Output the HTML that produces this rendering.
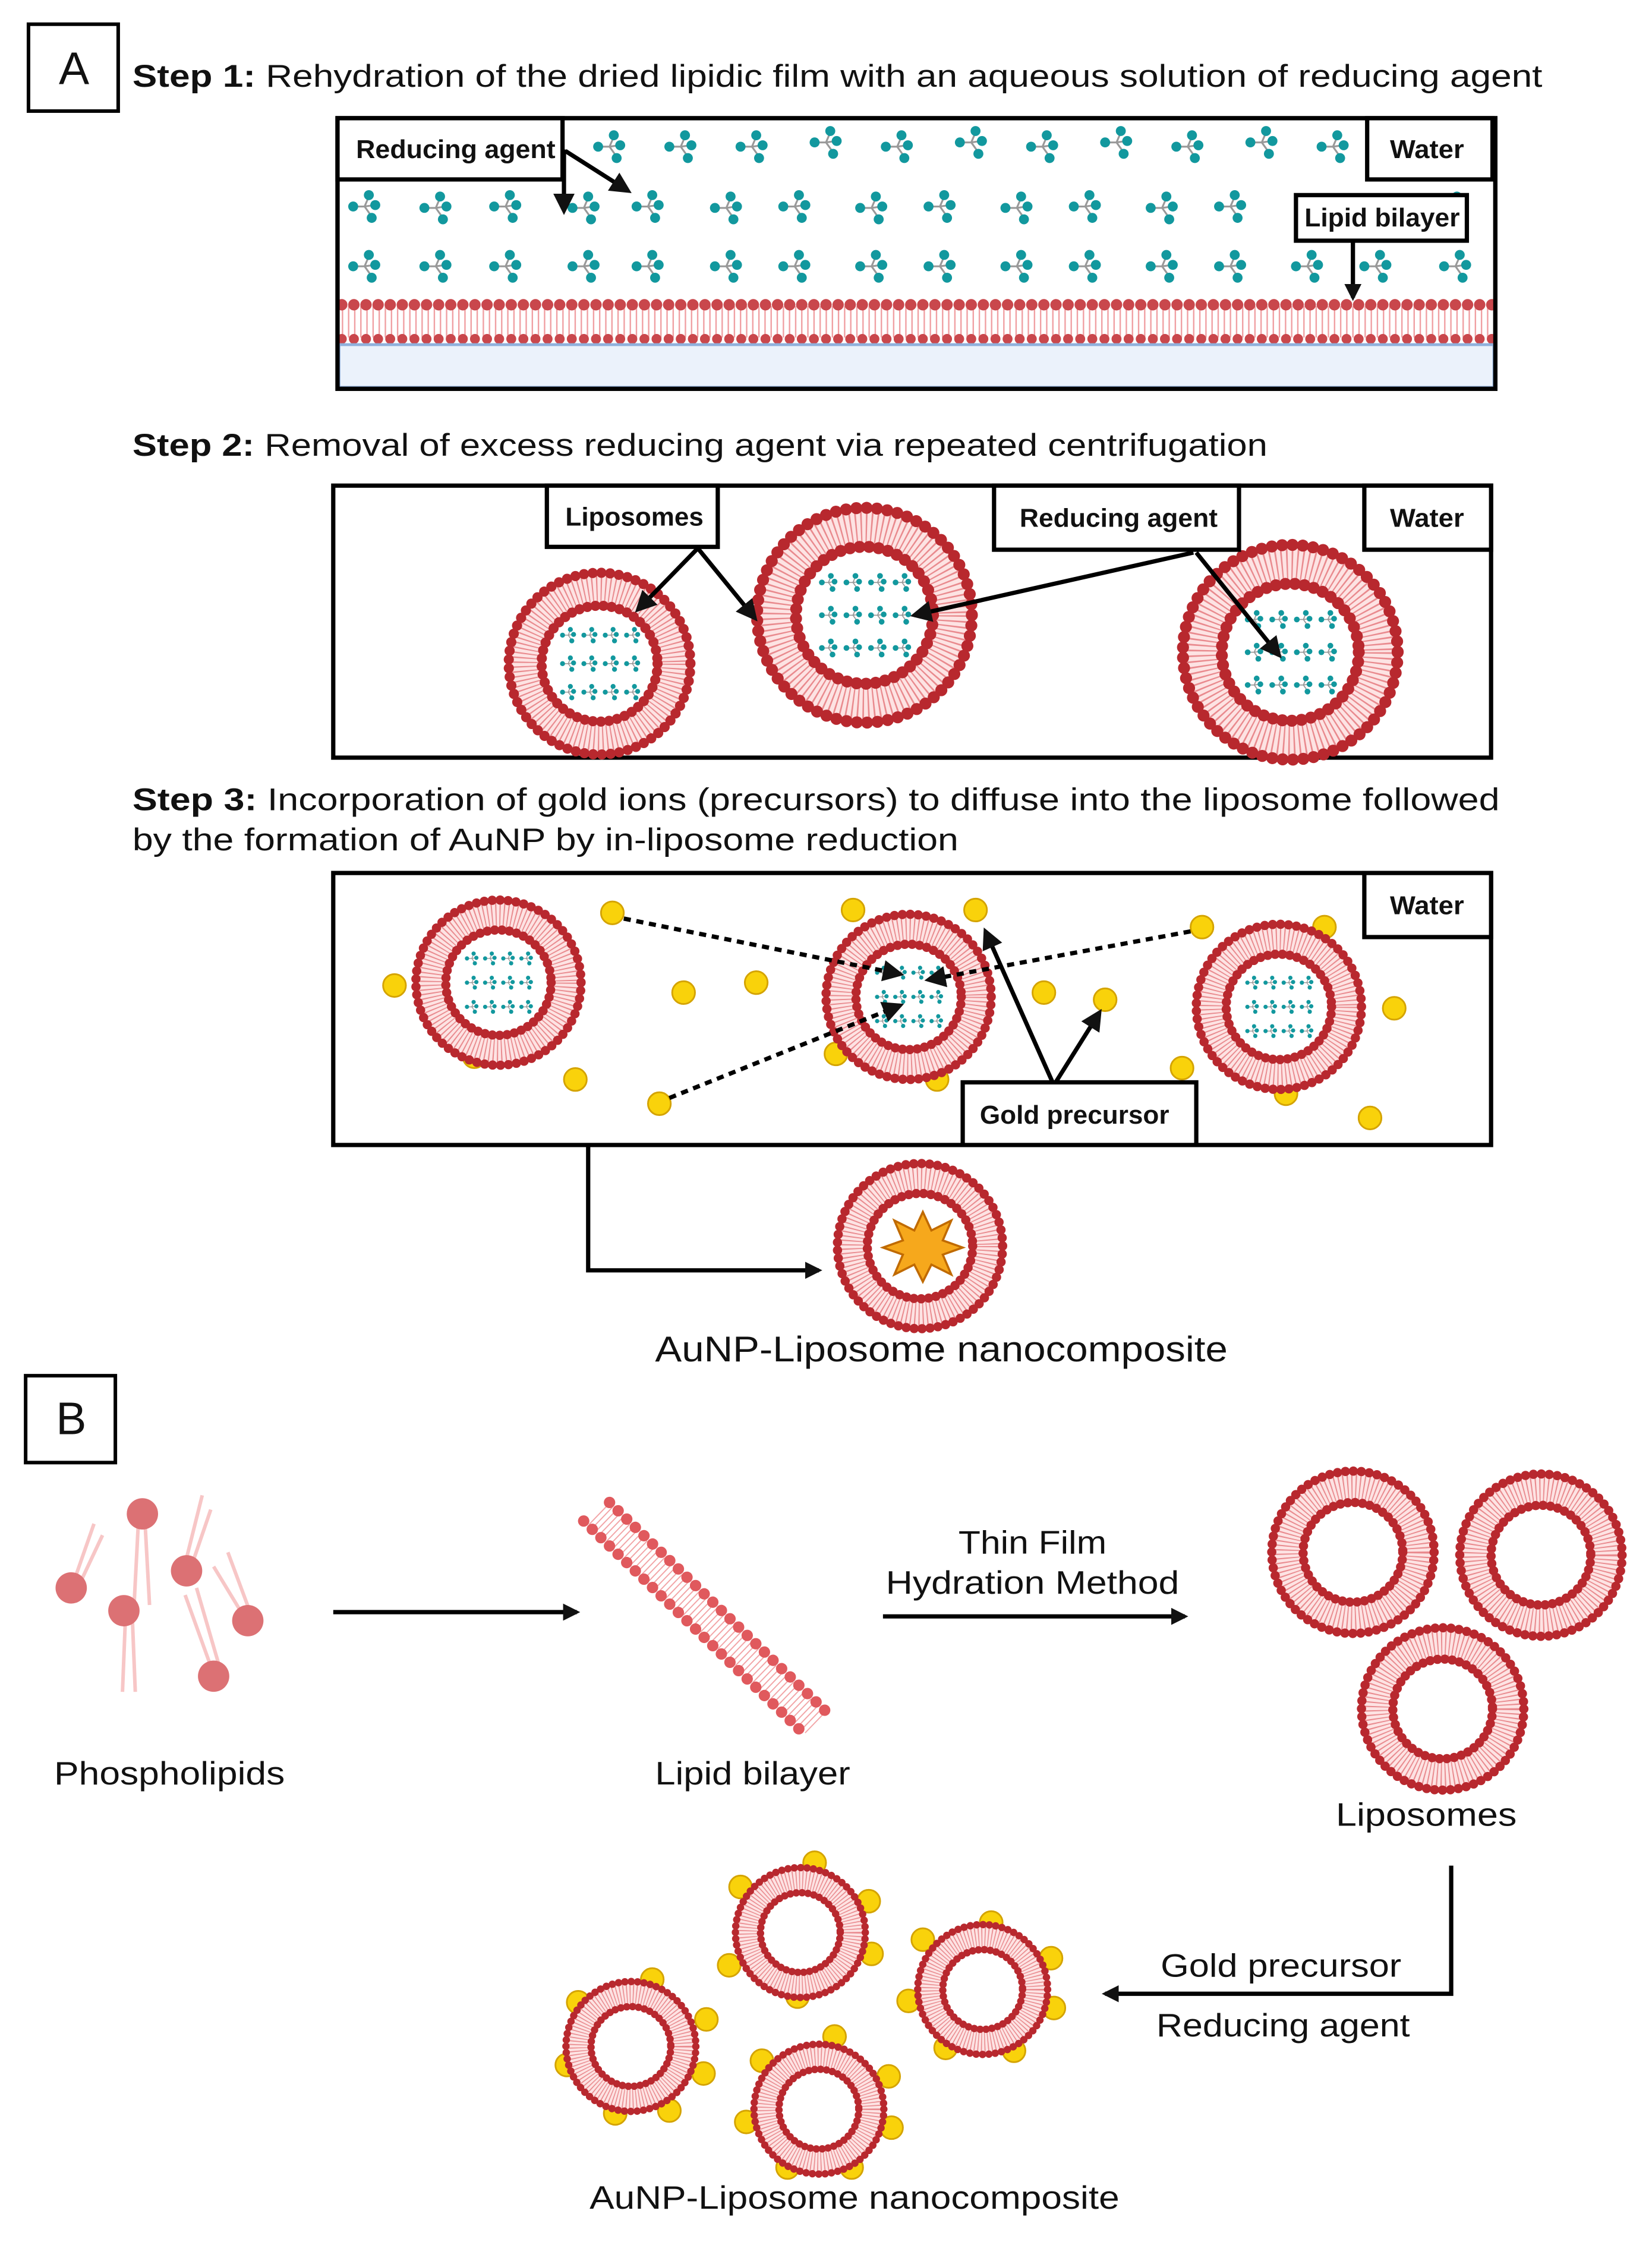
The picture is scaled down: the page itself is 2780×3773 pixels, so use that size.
<!DOCTYPE html>
<html><head><meta charset="utf-8"><style>
html,body{margin:0;padding:0;background:#fff;}
svg{display:block;}
text{font-family:"Liberation Sans",sans-serif;fill:#111;}
.lb{font-weight:bold;font-size:18px;}
.bx{fill:#fff;stroke:#000;stroke-width:3;}
.ar{stroke:#000;stroke-width:3;fill:none;}
</style></head><body>
<svg width="2780" height="3773" viewBox="0 0 1160 1574.3" preserveAspectRatio="none">
<defs>
<marker id="ah" viewBox="0 0 10 10" refX="8" refY="5" markerWidth="4" markerHeight="4" orient="auto"><path d="M0,0L10,5L0,10z" fill="#111"/></marker>
<marker id="ah2" viewBox="0 0 10 10" refX="8" refY="5" markerWidth="5" markerHeight="5" orient="auto"><path d="M0,0L10,5L0,10z" fill="#111"/></marker>
<g id="mol">
 <path d="M-8,0L0,0L3,-7M0,0L7,-1M0,0L5,7" stroke="#999" stroke-width="1.3" fill="none"/>
 <circle cx="-8" cy="0" r="3.5" fill="#12989e"/><circle cx="3" cy="-8" r="3.5" fill="#12989e"/>
 <circle cx="7.5" cy="-1" r="3.5" fill="#12989e"/><circle cx="5" cy="8" r="3.5" fill="#12989e"/>
</g>
<g id="lipo">
 <circle r="48" fill="none" stroke="#fde3e3" stroke-width="20"/>
 <circle r="48" fill="none" stroke="#e98a8e" stroke-width="19" stroke-dasharray="0.8 2"/>
 <circle r="58" fill="none" stroke="#b8282e" stroke-width="6.5" stroke-linecap="round" stroke-dasharray="0 5.6"/>
 <circle r="37" fill="#fff" stroke="#b8282e" stroke-width="6.5" stroke-linecap="round" stroke-dasharray="0 5.2"/>
</g>
<g id="lipoB">
 <circle r="46" fill="none" stroke="#fde3e3" stroke-width="20"/>
 <circle r="46" fill="none" stroke="#e98a8e" stroke-width="19" stroke-dasharray="0.8 2"/>
 <circle r="57" fill="none" stroke="#b8282e" stroke-width="6.5" stroke-linecap="round" stroke-dasharray="0 5.6"/>
 <circle r="35" fill="#fff" stroke="#b8282e" stroke-width="6.5" stroke-linecap="round" stroke-dasharray="0 5.2"/>
</g>
<g id="inmol">
 <use href="#mol" transform="translate(-22,-20) scale(0.5)"/><use href="#mol" transform="translate(-7,-20) scale(0.5)"/><use href="#mol" transform="translate(8,-20) scale(0.5)"/><use href="#mol" transform="translate(23,-20) scale(0.5)"/>
 <use href="#mol" transform="translate(-22,0) scale(0.5)"/><use href="#mol" transform="translate(-7,0) scale(0.5)"/><use href="#mol" transform="translate(8,0) scale(0.5)"/><use href="#mol" transform="translate(23,0) scale(0.5)"/>
 <use href="#mol" transform="translate(-22,20) scale(0.5)"/><use href="#mol" transform="translate(-7,20) scale(0.5)"/><use href="#mol" transform="translate(8,20) scale(0.5)"/><use href="#mol" transform="translate(23,20) scale(0.5)"/>
</g>
<circle id="au" r="8" fill="#f9d20b" stroke="#d4a300" stroke-width="1.2"/>
</defs>

<!-- A -->
<rect x="20" y="17" width="63" height="61" fill="none" stroke="#000" stroke-width="2.5"/>
<text x="52" y="59" font-size="32" text-anchor="middle">A</text>
<text x="93" y="61" font-size="22" textLength="990" lengthAdjust="spacingAndGlyphs"><tspan font-weight="bold">Step 1:</tspan> Rehydration of the dried lipidic film with an aqueous solution of reducing agent</text>

<!-- Step 1 box -->
<rect x="237" y="83" width="813" height="190" fill="#fff" stroke="#000" stroke-width="3"/>
<g>
<use href="#mol" x="428" y="103"/><use href="#mol" x="478" y="103"/><use href="#mol" x="528" y="103"/><use href="#mol" x="580" y="100"/><use href="#mol" x="630" y="103"/><use href="#mol" x="682" y="100"/><use href="#mol" x="732" y="103"/><use href="#mol" x="784" y="100"/><use href="#mol" x="834" y="103"/><use href="#mol" x="886" y="100"/><use href="#mol" x="936" y="103"/>
<use href="#mol" x="256" y="145"/><use href="#mol" x="306" y="146"/><use href="#mol" x="355" y="145"/><use href="#mol" x="410" y="146"/><use href="#mol" x="455" y="145"/><use href="#mol" x="510" y="146"/><use href="#mol" x="558" y="145"/><use href="#mol" x="612" y="146"/><use href="#mol" x="660" y="145"/><use href="#mol" x="714" y="146"/><use href="#mol" x="762" y="145"/><use href="#mol" x="816" y="146"/><use href="#mol" x="864" y="145"/><use href="#mol" x="1020" y="146"/>
<use href="#mol" x="256" y="187"/><use href="#mol" x="306" y="187"/><use href="#mol" x="355" y="187"/><use href="#mol" x="410" y="187"/><use href="#mol" x="455" y="187"/><use href="#mol" x="510" y="187"/><use href="#mol" x="558" y="187"/><use href="#mol" x="612" y="187"/><use href="#mol" x="660" y="187"/><use href="#mol" x="714" y="187"/><use href="#mol" x="762" y="187"/><use href="#mol" x="816" y="187"/><use href="#mol" x="864" y="187"/><use href="#mol" x="918" y="187"/><use href="#mol" x="966" y="187"/><use href="#mol" x="1022" y="187"/>
</g>
<line x1="240" y1="226" x2="1048" y2="226" stroke="#f0a0a3" stroke-width="22" stroke-dasharray="1 3.3"/>
<line x1="240" y1="214" x2="1048" y2="214" stroke="#c9474c" stroke-width="8" stroke-linecap="round" stroke-dasharray="0 8.5"/>
<line x1="240" y1="238" x2="1048" y2="238" stroke="#c9474c" stroke-width="7" stroke-linecap="round" stroke-dasharray="0 8.5"/>
<rect x="238" y="242" width="811" height="30" fill="#ebf2fb" stroke="#8fb0dc" stroke-width="2"/>
<rect x="237" y="83" width="813" height="190" fill="none" stroke="#000" stroke-width="3"/>
<rect class="bx" x="237" y="83" width="158" height="43"/><text class="lb" x="250" y="111" textLength="140" lengthAdjust="spacingAndGlyphs">Reducing agent</text>
<rect class="bx" x="960" y="83" width="88" height="43"/><text class="lb" x="976" y="111" textLength="52" lengthAdjust="spacingAndGlyphs">Water</text>
<rect class="bx" x="910" y="137" width="120" height="32"/><text class="lb" x="916" y="159" textLength="109" lengthAdjust="spacingAndGlyphs">Lipid bilayer</text>
<line class="ar" x1="396" y1="105" x2="396" y2="148" marker-end="url(#ah2)"/>
<line class="ar" x1="397" y1="106" x2="441" y2="134" marker-end="url(#ah2)"/>
<line class="ar" x1="950" y1="169" x2="950" y2="209" marker-end="url(#ah)"/>

<!-- Step 2 -->
<text x="93" y="320" font-size="22" textLength="797" lengthAdjust="spacingAndGlyphs"><tspan font-weight="bold">Step 2:</tspan> Removal of excess reducing agent via repeated centrifugation</text>
<rect x="234" y="341" width="813" height="191" fill="none" stroke="#000" stroke-width="3"/>
<use href="#lipo" transform="translate(421,466) scale(1.1)"/><use href="#inmol" transform="translate(421,466)"/>
<use href="#lipo" transform="translate(607,432) scale(1.3)"/><use href="#inmol" transform="translate(607,432) scale(1.15)"/>
<use href="#lipo" transform="translate(906,458) scale(1.3)"/><use href="#inmol" transform="translate(906,458) scale(1.15)"/>
<rect class="bx" x="384" y="341" width="120" height="43"/><text class="lb" x="397" y="369" textLength="97" lengthAdjust="spacingAndGlyphs">Liposomes</text>
<rect class="bx" x="698" y="341" width="172" height="45"/><text class="lb" x="716" y="370" textLength="139" lengthAdjust="spacingAndGlyphs">Reducing agent</text>
<rect class="bx" x="958" y="341" width="89" height="45"/><text class="lb" x="976" y="370" textLength="52" lengthAdjust="spacingAndGlyphs">Water</text>
<line class="ar" stroke-width="2.5" x1="490" y1="385" x2="448" y2="428" marker-end="url(#ah2)"/>
<line class="ar" stroke-width="2.5" x1="490" y1="385" x2="530" y2="434" marker-end="url(#ah2)"/>
<line class="ar" stroke-width="2.5" x1="838" y1="388" x2="642" y2="432" marker-end="url(#ah2)"/>
<line class="ar" stroke-width="2.5" x1="840" y1="388" x2="898" y2="460" marker-end="url(#ah2)"/>

<!-- Step 3 -->
<text x="93" y="569" font-size="22" textLength="960" lengthAdjust="spacingAndGlyphs"><tspan font-weight="bold">Step 3:</tspan> Incorporation of gold ions (precursors) to diffuse into the liposome followed</text>
<text x="93" y="597" font-size="22" textLength="580" lengthAdjust="spacingAndGlyphs">by the formation of AuNP by in-liposome reduction</text>
<rect x="234" y="613" width="813" height="191" fill="none" stroke="#000" stroke-width="3"/>
<use href="#au" x="344" y="640"/><use href="#au" x="277" y="692"/><use href="#au" x="333" y="742"/><use href="#au" x="587" y="740"/><use href="#au" x="658" y="758"/><use href="#au" x="830" y="750"/><use href="#au" x="930" y="651"/><use href="#au" x="903" y="768"/>
<use href="#lipo" transform="translate(350,690)"/><use href="#inmol" transform="translate(350,690) scale(0.85)"/>
<use href="#lipo" transform="translate(638,700)"/><use href="#inmol" transform="translate(638,700) scale(0.85)"/>
<use href="#lipo" transform="translate(898,707)"/><use href="#inmol" transform="translate(898,707) scale(0.85)"/>
<use href="#au" x="404" y="758"/><use href="#au" x="430" y="641"/><use href="#au" x="480" y="697"/><use href="#au" x="531" y="690"/><use href="#au" x="599" y="639"/><use href="#au" x="685" y="639"/><use href="#au" x="733" y="697"/><use href="#au" x="776" y="702"/><use href="#au" x="844" y="651"/><use href="#au" x="979" y="708"/><use href="#au" x="962" y="785"/><use href="#au" x="463" y="775"/>
<line class="ar" stroke-width="2" stroke-dasharray="5 4" x1="438" y1="645" x2="632" y2="684" marker-end="url(#ah2)"/>
<line class="ar" stroke-width="2" stroke-dasharray="5 4" x1="836" y1="654" x2="652" y2="688" marker-end="url(#ah2)"/>
<line class="ar" stroke-width="2" stroke-dasharray="5 4" x1="470" y1="771" x2="632" y2="706" marker-end="url(#ah2)"/>
<line class="ar" stroke-width="2.5" x1="740" y1="762" x2="692" y2="654" marker-end="url(#ah2)"/>
<line class="ar" stroke-width="2.5" x1="740" y1="762" x2="772" y2="711" marker-end="url(#ah2)"/>
<rect class="bx" x="958" y="613" width="89" height="45"/><text class="lb" x="976" y="642" textLength="52" lengthAdjust="spacingAndGlyphs">Water</text>
<rect class="bx" x="676" y="760" width="164" height="44"/><text class="lb" x="688" y="789" textLength="133" lengthAdjust="spacingAndGlyphs">Gold precursor</text>
<path class="ar" stroke-width="2" d="M413,805V892H575" marker-end="url(#ah)"/>
<use href="#lipo" transform="translate(646,875)"/>
<polygon points="648,851 654,864 668,857 662,871 676,876 662,881 668,895 654,888 648,900 642,888 628,895 634,881 620,876 634,871 628,857 642,864" fill="#f6a81c" stroke="#c06a00" stroke-width="1.5"/>
<text x="460" y="956" font-size="25" textLength="402" lengthAdjust="spacingAndGlyphs">AuNP-Liposome nanocomposite</text>

<!-- B -->
<rect x="18" y="966" width="63" height="61" fill="none" stroke="#000" stroke-width="2.5"/>
<text x="50" y="1007" font-size="32" text-anchor="middle">B</text>
<g stroke="#f7c6c6" stroke-width="2.5" fill="none">
<path d="M52,1110L66,1070M56,1112L72,1078M97,1072L94,1130M102,1072L105,1127M130,1098L142,1050M135,1098L148,1060M170,1133L150,1100M176,1133L160,1090M88,1138L86,1188M93,1138L95,1188M148,1170L130,1120M154,1170L138,1115"/>
</g>
<g fill="#dc7174">
<circle cx="100" cy="1063" r="11"/><circle cx="50" cy="1115" r="11"/><circle cx="131" cy="1103" r="11"/><circle cx="87" cy="1131" r="11"/><circle cx="174" cy="1138" r="11"/><circle cx="150" cy="1177" r="11"/>
</g>
<text x="38" y="1253" font-size="23" textLength="162" lengthAdjust="spacingAndGlyphs">Phospholipids</text>
<line class="ar" stroke-width="2" x1="234" y1="1132" x2="405" y2="1132" marker-end="url(#ah)"/>
<g transform="translate(428,1055) rotate(44)">
<line x1="0" y1="11" x2="212" y2="11" stroke="#f2a4a6" stroke-width="20" stroke-dasharray="0.8 2.6"/>
<line x1="0" y1="0" x2="212" y2="0" stroke="#e0595d" stroke-width="8" stroke-linecap="round" stroke-dasharray="0 8.4"/>
<line x1="-4" y1="22" x2="208" y2="22" stroke="#e0595d" stroke-width="8" stroke-linecap="round" stroke-dasharray="0 8.4"/>
</g>
<text x="460" y="1253" font-size="23" textLength="137" lengthAdjust="spacingAndGlyphs">Lipid bilayer</text>
<text x="673" y="1091" font-size="23" textLength="104" lengthAdjust="spacingAndGlyphs">Thin Film</text>
<text x="622" y="1119" font-size="23" textLength="206" lengthAdjust="spacingAndGlyphs">Hydration Method</text>
<line class="ar" stroke-width="2" x1="620" y1="1135" x2="832" y2="1135" marker-end="url(#ah)"/>
<use href="#lipoB" transform="translate(950,1090)"/>
<use href="#lipoB" transform="translate(1082,1092)"/>
<use href="#lipoB" transform="translate(1013,1200)"/>
<text x="938" y="1282" font-size="23" textLength="127" lengthAdjust="spacingAndGlyphs">Liposomes</text>
<path class="ar" stroke-width="2" d="M1019,1310V1400H776" marker-end="url(#ah)"/>
<text x="815" y="1388" font-size="23" textLength="169" lengthAdjust="spacingAndGlyphs">Gold precursor</text>
<text x="812" y="1430" font-size="23" textLength="178" lengthAdjust="spacingAndGlyphs">Reducing agent</text>
<g>
<use href="#au" x="572" y="1308"/><use href="#au" x="520" y="1325"/><use href="#au" x="610" y="1335"/><use href="#au" x="612" y="1372"/><use href="#au" x="560" y="1402"/><use href="#au" x="512" y="1380"/>
<use href="#lipoB" transform="translate(562,1357) scale(0.8)"/>
<use href="#au" x="696" y="1350"/><use href="#au" x="648" y="1362"/><use href="#au" x="738" y="1375"/><use href="#au" x="740" y="1410"/><use href="#au" x="712" y="1440"/><use href="#au" x="664" y="1438"/><use href="#au" x="638" y="1405"/>
<use href="#lipoB" transform="translate(690,1397) scale(0.8)"/>
<use href="#au" x="458" y="1390"/><use href="#au" x="406" y="1406"/><use href="#au" x="496" y="1418"/><use href="#au" x="398" y="1450"/><use href="#au" x="494" y="1456"/><use href="#au" x="432" y="1484"/><use href="#au" x="470" y="1482"/>
<use href="#lipoB" transform="translate(443,1437) scale(0.8)"/>
<use href="#au" x="586" y="1430"/><use href="#au" x="535" y="1447"/><use href="#au" x="624" y="1458"/><use href="#au" x="626" y="1494"/><use href="#au" x="524" y="1490"/><use href="#au" x="598" y="1522"/><use href="#au" x="553" y="1522"/>
<use href="#lipoB" transform="translate(575,1481) scale(0.8)"/>
</g>
<text x="414" y="1551" font-size="23" textLength="372" lengthAdjust="spacingAndGlyphs">AuNP-Liposome nanocomposite</text>
</svg>
</body></html>
